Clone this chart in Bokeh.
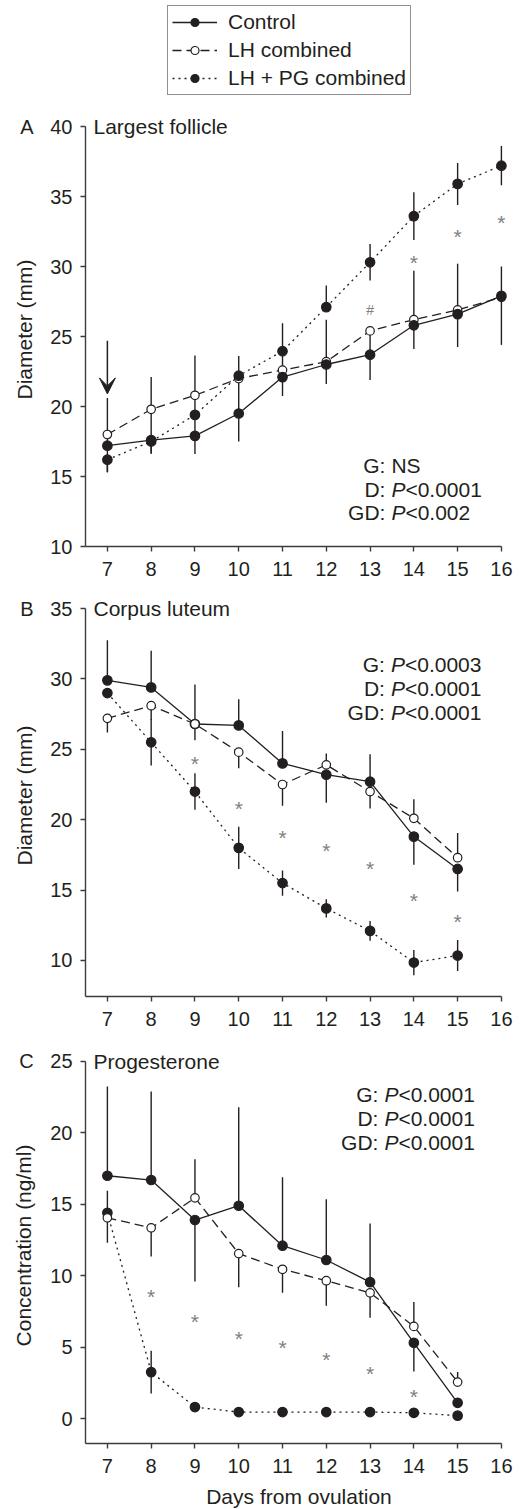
from bokeh.plotting import figure
from bokeh.layouts import column
from bokeh.models import Range1d, FixedTicker, Legend, LegendItem, Arrow, VeeHead
from bokeh.core.properties import value
from bokeh.embed import file_html
from bokeh.resources import INLINE

# ---------------- data ----------------
days_a = [7, 8, 9, 10, 11, 12, 13, 14, 15, 16]
days_bc = [7, 8, 9, 10, 11, 12, 13, 14, 15]
x_ticks = [7, 8, 9, 10, 11, 12, 13, 14, 15, 16]

names = ["Control", "LH combined", "LH + PG combined"]

# Panel A: largest follicle diameter (mm)
ctrl_a = [17.2, 17.6, 17.9, 19.5, 22.1, 23.0, 23.7, 25.8, 26.6, 27.9]
ctrl_a_up = [0, 0, 0, 2.5, 0, 0, 1.7, 0, 0, 0]
ctrl_a_dn = [1.9, 1.0, 1.3, 2.0, 1.35, 1.4, 1.8, 1.7, 2.35, 3.5]
lh_a = [18.0, 19.8, 20.8, 22.0, 22.6, 23.2, 25.4, 26.2, 26.9, 27.8]
lh_a_up = [2.6, 2.3, 2.85, 0, 0, 3.0, 0, 3.5, 3.3, 2.2]
lh_a_dn = [0.8, 2.2, 0, 0, 0, 0, 0, 0, 0, 0]
lhpg_a = [16.2, 17.5, 19.4, 22.2, 23.95, 27.1, 30.3, 33.6, 35.9, 37.2]
lhpg_a_up = [0, 0, 1.4, 1.4, 2.0, 1.55, 1.3, 1.7, 1.5, 1.4]
lhpg_a_dn = [0.9, 0.8, 1.5, 0, 1.9, 0.3, 1.3, 1.7, 1.5, 1.4]
stars_a_x = [14, 15, 16]
stars_a_y = [30.6, 32.4, 33.4]
hash_a_x = [13]
hash_a_y = [27.2]
stats_a_lab = ["G:", "D:", "GD:"]
stats_a_p = ["", "P", "P"]
stats_a_val = ["NS", "<0.0001", "<0.002"]
stats_a_y = [15.8, 14.1, 12.4]

# Panel B: corpus luteum diameter (mm)
ctrl_b = [29.9, 29.4, 26.8, 26.7, 24.0, 23.2, 22.7, 18.8, 16.5]
ctrl_b_up = [2.85, 2.6, 2.8, 1.85, 2.3, 0, 1.95, 0, 0]
ctrl_b_dn = [0, 0, 0, 0, 0, 2.0, 0, 2.0, 1.6]
lh_b = [27.2, 28.1, 26.8, 24.8, 22.5, 23.9, 22.0, 20.1, 17.3]
lh_b_up = [0, 0, 0, 0, 0, 0.8, 0, 1.35, 1.75]
lh_b_dn = [1.0, 1.0, 1.15, 1.15, 1.5, 0, 1.2, 0, 0]
lhpg_b = [29.0, 25.5, 22.0, 18.0, 15.5, 13.7, 12.1, 9.85, 10.35]
lhpg_b_up = [0, 1.65, 1.3, 1.5, 0.9, 0.65, 0.7, 0.9, 1.1]
lhpg_b_dn = [0, 1.65, 1.3, 1.5, 0.9, 0.65, 0.7, 0.9, 1.1]
stars_b_x = [9, 10, 11, 12, 13, 14, 15]
stars_b_y = [24.3, 21.1, 19.05, 18.1, 16.8, 14.55, 13.05]
stats_b_lab = ["G:", "D:", "GD:"]
stats_b_p = ["P", "P", "P"]
stats_b_val = ["<0.0003", "<0.0001", "<0.0001"]
stats_b_y = [31.0, 29.3, 27.6]

# Panel C: progesterone (ng/ml)
ctrl_c = [17.0, 16.7, 13.9, 14.9, 12.1, 11.1, 9.55, 5.3, 1.1]
ctrl_c_up = [6.25, 6.2, 0, 6.9, 4.8, 4.25, 4.1, 0, 0]
ctrl_c_dn = [0, 0, 4.3, 0, 0, 0, 0, 2.0, 0.3]
lh_c = [14.05, 13.35, 15.45, 11.55, 10.45, 9.65, 8.8, 6.45, 2.55]
lh_c_up = [0, 0, 2.7, 0, 0, 0, 0, 1.7, 0.7]
lh_c_dn = [1.75, 2.0, 0, 2.35, 1.65, 1.75, 1.75, 0, 0]
lhpg_c = [14.4, 3.25, 0.8, 0.45, 0.45, 0.45, 0.45, 0.4, 0.2]
lhpg_c_up = [1.55, 1.5, 0.2, 0.2, 0.2, 0.2, 0.2, 0.2, 0]
lhpg_c_dn = [0, 1.5, 0.2, 0.2, 0.2, 0.2, 0.2, 0.2, 0]
stars_c_x = [8, 9, 10, 11, 12, 13, 14]
stars_c_y = [8.8, 7.1, 5.85, 5.25, 4.4, 3.4, 1.8]
stats_c_lab = ["G:", "D:", "GD:"]
stats_c_p = ["P", "P", "P"]
stats_c_val = ["<0.0001", "<0.0001", "<0.0001"]
stats_c_y = [22.7, 21.0, 19.35]

# treatment arrow (panel A, day 7)
ARROW_DAY = 7
ARROW_TOP = 24.7
ARROW_TIP = 20.9

# ---------------- style ----------------
FONT = "Liberation Sans"
INK = "#231f20"
AXC = "#3c3c3c"
STARC = "#808080"
TICK_FS = "20px"
TXT_FS = "21px"
PX_PER_DAY = 43.78
FRAME_W = 427
BORDER_L = 85
BORDER_R = 8
X0 = 6.5
X1 = X0 + FRAME_W / PX_PER_DAY
NBSP = "\u00a0"

STYLE = {
    "Control": dict(dash="solid", fill=INK, size=9.5),
    "LH combined": dict(dash="9 5", fill="white", size=8.5),
    "LH + PG combined": dict(dash="2 4", fill=INK, size=9.5),
}


def panel(days, series, order, y0, y1, top_tick, yticks, frame_h, btop, bbot,
          letter, title, ylabel, stats, stars, colon_x, xlabel=None):
    p = figure(frame_width=FRAME_W, frame_height=frame_h,
               min_border_left=BORDER_L, min_border_right=BORDER_R,
               min_border_top=btop, min_border_bottom=bbot,
               x_range=Range1d(X0, X1), y_range=Range1d(y0, y1),
               toolbar_location=None, output_backend="svg",
               background_fill_color="white", border_fill_color="white")
    p.outline_line_color = None
    p.grid.visible = False
    p.xaxis.ticker = FixedTicker(ticks=x_ticks)
    p.yaxis.ticker = FixedTicker(ticks=yticks)
    p.xaxis.bounds = (X0, 16)
    p.yaxis.bounds = (y0, top_tick)
    for ax in (p.xaxis, p.yaxis):
        ax.axis_line_color = AXC
        ax.axis_line_width = 1.4
        ax.major_tick_line_color = AXC
        ax.major_tick_line_width = 1.4
        ax.major_tick_in = 0
        ax.major_tick_out = 5
        ax.minor_tick_out = 0
        ax.minor_tick_in = 0
        ax.major_label_text_font = FONT
        ax.major_label_text_font_size = TICK_FS
        ax.major_label_text_color = INK
        ax.axis_label_text_font = FONT
        ax.axis_label_text_font_size = TXT_FS
        ax.axis_label_text_font_style = "normal"
        ax.axis_label_text_color = INK
    p.xaxis.major_label_standoff = 10
    p.yaxis.major_label_standoff = 8
    # panel letter sits to the left of the top tick label
    p.yaxis.major_label_overrides = {top_tick: letter + NBSP * 3 + str(top_tick)}
    p.yaxis.axis_label = ylabel
    p.yaxis.axis_label_standoff = -19
    if xlabel:
        p.xaxis.axis_label = xlabel
        p.xaxis.axis_label_standoff = 9

    # error bars
    for name in order:
        vals, up, dn = series[name]
        lo = [v - d for v, d in zip(vals, dn)]
        hi = [v + u for v, u in zip(vals, up)]
        p.segment(x0=days, y0=lo, x1=days, y1=hi, line_color=INK, line_width=1.4)
    # lines
    for name in order:
        vals, up, dn = series[name]
        st = STYLE[name]
        p.line(days, vals, line_color=INK, line_width=1.3, line_dash=st["dash"])
    # markers
    for name in order:
        vals, up, dn = series[name]
        st = STYLE[name]
        p.scatter(days, vals, marker="circle", size=st["size"], fill_color=st["fill"],
                  line_color=INK, line_width=1.2)

    # significance marks
    for sx, sy, sym, fs in stars:
        p.text(x=sx, y=sy, text=[sym] * len(sx), text_color=STARC,
               text_font=value(FONT), text_font_size=value(fs),
               text_align="center", text_baseline="middle", y_offset=4)

    # statistics
    labs, ps, vals_t, ys = stats
    p.text(x=[colon_x] * 3, y=ys, text=labs, text_color=INK, text_font=value(FONT),
           text_font_size=value(TXT_FS), text_align="right", text_baseline="middle")
    p_y = [y for y, pp in zip(ys, ps) if pp]
    p_t = [pp for pp in ps if pp]
    p.text(x=[colon_x] * len(p_y), y=p_y, text=p_t, text_color=INK, text_font=value(FONT),
           text_font_size=value(TXT_FS), text_font_style="italic",
           text_align="left", text_baseline="middle", x_offset=6)
    offs = [6 + (14 if pp else 0) for pp in ps]
    p.text(x=[colon_x] * 3, y=ys, text=vals_t, text_color=INK, text_font=value(FONT),
           text_font_size=value(TXT_FS), text_align="left", text_baseline="middle",
           x_offset=offs)

    # panel title
    p.text(x=[X0], y=[top_tick], text=[title], text_color=INK, text_font=value(FONT),
           text_font_size=value(TXT_FS), text_align="left", text_baseline="middle",
           x_offset=8)
    return p


# legend figure (renderers use the panel A data, kept outside this figure's view)
lf = figure(frame_width=FRAME_W, frame_height=107, min_border_left=BORDER_L,
            min_border_right=BORDER_R, min_border_top=0, min_border_bottom=0,
            x_range=Range1d(0, 1), y_range=Range1d(0, 1), x_axis_type=None, y_axis_type=None,
            toolbar_location=None, output_backend="svg")
lf.outline_line_color = None
lf.grid.visible = False
leg_data = {"Control": ctrl_a, "LH combined": lh_a, "LH + PG combined": lhpg_a}
items = []
for name in names:
    st = STYLE[name]
    rl = lf.line(days_a, leg_data[name], line_color=INK, line_width=1.3, line_dash=st["dash"])
    rs = lf.scatter(days_a, leg_data[name], marker="circle", size=st["size"],
                    fill_color=st["fill"], line_color=INK, line_width=1.2)
    items.append(LegendItem(label=name, renderers=[rl, rs]))
leg = Legend(items=items, location=(82, 12), margin=0, padding=4, spacing=4,
             glyph_width=45, glyph_height=20, label_height=20, label_standoff=11,
             label_text_font=FONT, label_text_font_size=TXT_FS, label_text_color=INK,
             border_line_color=INK, border_line_width=1.2, background_fill_alpha=1)
lf.add_layout(leg)

pa = panel(days_a,
           {"Control": (ctrl_a, ctrl_a_up, ctrl_a_dn),
            "LH combined": (lh_a, lh_a_up, lh_a_dn),
            "LH + PG combined": (lhpg_a, lhpg_a_up, lhpg_a_dn)},
           ["LH combined", "Control", "LH + PG combined"],
           10, 41, 40, [10, 15, 20, 25, 30, 35, 40], 434, 5, 40,
           "A", "Largest follicle", "Diameter (mm)",
           (stats_a_lab, stats_a_p, stats_a_val, stats_a_y),
           [(stars_a_x, stars_a_y, "*", "21px"), (hash_a_x, hash_a_y, "#", "14px")],
           13.35)
pa.add_layout(Arrow(end=VeeHead(size=16, fill_color=INK, line_color=INK, line_width=1),
                    x_start=ARROW_DAY, y_start=ARROW_TOP, x_end=ARROW_DAY, y_end=ARROW_TIP,
                    line_color=INK, line_width=1.5))

pb = panel(days_bc,
           {"Control": (ctrl_b, ctrl_b_up, ctrl_b_dn),
            "LH combined": (lh_b, lh_b_up, lh_b_dn),
            "LH + PG combined": (lhpg_b, lhpg_b_up, lhpg_b_dn)},
           ["Control", "LH + PG combined", "LH combined"],
           7.44, 36, 35, [10, 15, 20, 25, 30, 35], 402, 8, 40,
           "B", "Corpus luteum", "Diameter (mm)",
           (stats_b_lab, stats_b_p, stats_b_val, stats_b_y),
           [(stars_b_x, stars_b_y, "*", "21px")],
           13.34)

pc = panel(days_bc,
           {"Control": (ctrl_c, ctrl_c_up, ctrl_c_dn),
            "LH combined": (lh_c, lh_c_up, lh_c_dn),
            "LH + PG combined": (lhpg_c, lhpg_c_up, lhpg_c_dn)},
           ["Control", "LH + PG combined", "LH combined"],
           -1.75, 25.98, 25, [0, 5, 10, 15, 20, 25], 396, 11, 57,
           "C", "Progesterone", "Concentration (ng/ml)",
           (stats_c_lab, stats_c_p, stats_c_val, stats_c_y),
           [(stars_c_x, stars_c_y, "*", "21px")],
           13.19, xlabel="Days from ovulation")

layout = column(lf, pa, pb, pc)
open("out.html", "w").write(file_html(layout, INLINE))
